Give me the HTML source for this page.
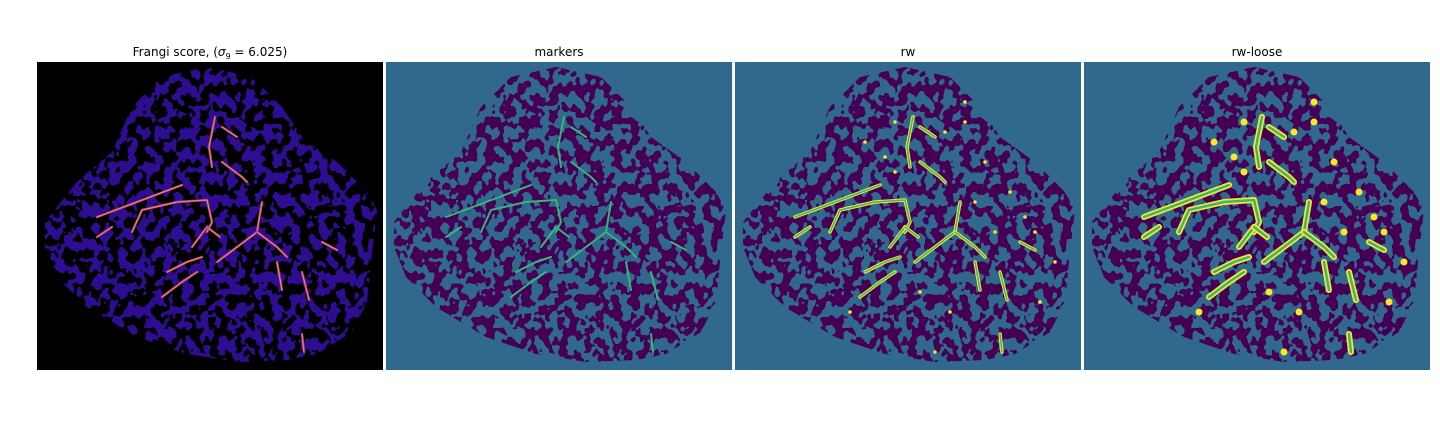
<!DOCTYPE html>
<html><head><meta charset="utf-8"><style>
html,body{margin:0;padding:0;background:#fff;}
svg{display:block;}
text{font-family:"DejaVu Sans","Liberation Sans",sans-serif;font-size:12px;fill:#000;}
</style></head><body>
<svg id="fig" width="1440" height="432" viewBox="0 0 1440 432" xmlns="http://www.w3.org/2000/svg">
<defs>
<filter id="texV" filterUnits="userSpaceOnUse" x="0" y="0" width="1440" height="432">
 <feTurbulence type="fractalNoise" baseFrequency="0.11 0.09" numOctaves="2" seed="7" result="t"/>
 <feColorMatrix in="t" type="matrix" values="0 0 0 0 0  0 0 0 0 0  0 0 0 0 0  1.6 0 0 0 -0.30" result="a"/>
 <feComponentTransfer in="a" result="b"><feFuncA type="discrete" tableValues="0 1"/></feComponentTransfer>
 <feFlood flood-color="#440154"/>
 <feComposite in2="b" operator="in"/>
</filter>
<filter id="texF" filterUnits="userSpaceOnUse" x="0" y="0" width="1440" height="432">
 <feTurbulence type="fractalNoise" baseFrequency="0.11 0.09" numOctaves="2" seed="7" result="t"/>
 <feColorMatrix in="t" type="matrix" values="0 0 0 0 0  0 0 0 0 0  0 0 0 0 0  -1.6 0 0 0 1.3" result="a"/>
 <feComponentTransfer in="a" result="b"><feFuncA type="discrete" tableValues="0 1"/></feComponentTransfer>
 <feFlood flood-color="#2e0a92"/>
 <feComposite in2="b" operator="in"/>
</filter>
</defs>
<g id="panels"></g>
</svg>
<script>
const NS="http://www.w3.org/2000/svg";
// blob outline (image coords relative to panel)
const outlineX=[8,40,75,95,125,170,215,245,265,300,330,340,335,330,315,280,250,200,150,100,50,20,8];
const outlineY=[160,120,90,45,15,5,15,45,75,100,130,148,190,240,270,292,298,300,292,275,245,215,185];
// detected vessels (image coords)
const vessels=[
 [[60,155],[100,140],[145,123]],
 [[95,170],[105,148],[140,140],[170,138],[175,160],[170,170]],
 [[170,165],[155,185]],
 [[170,165],[183,175]],
 [[225,140],[220,170],[200,185],[180,200]],
 [[220,170],[240,185],[250,195]],
 [[178,55],[172,85],[175,105]],
 [[185,100],[205,115],[210,120]],
 [[185,65],[200,75]],
 [[130,210],[150,200],[165,195]],
 [[125,235],[145,220],[160,210]],
 [[240,200],[245,228]],
 [[265,210],[272,238]],
 [[265,272],[267,290]],
 [[60,175],[75,165]],
 [[285,180],[300,188]]
];
const dotsX=[130,150,160,210,230,250,240,275,290,300,320,115,200,215,185,305,260,230,160];
const dotsY=[80,95,110,70,60,100,140,130,155,170,200,250,290,250,230,240,170,40,60];
const panels=[
 {x:37,title:"frangi",name:"frangi-panel"},
 {x:386,title:"markers",name:"markers-panel"},
 {x:735,title:"rw",name:"rw-panel"},
 {x:1084,title:"rw-loose",name:"rw-loose-panel"}
];
const W=346,H=308,Y0=62;
const root=document.getElementById('panels');
function mk(tag,attrs,parent){const e=document.createElementNS(NS,tag);for(const k in attrs)e.setAttribute(k,attrs[k]);parent.appendChild(e);return e;}
panels.forEach((p,i)=>{
 const g=mk('g',{transform:`translate(${p.x},${Y0})`},root);
 
 
 const cp=mk('clipPath',{id:'clip'+i},g);
 const pts=outlineX.map((x,j)=>x+','+outlineY[j]).join(' ');
 mk('polygon',{points:pts},cp);
 const bg=mk('rect',{x:0,y:0,width:W,height:H,fill:i===0?'#000':'#31688e'},g);
 
 
 const blob=mk('g',{'clip-path':`url(#clip${i})`},g);
 
 
 mk('rect',{x:0,y:0,width:W,height:H,fill:i===0?'#000':'#31688e'},blob);
 mk('rect',{x:-p.x,y:-Y0,width:1440,height:432,filter:i===0?'url(#texF)':'url(#texV)'},blob);
 const vg=mk('g',{fill:'none','stroke-linecap':'round','stroke-linejoin':'round'},blob);
 
 
 vessels.forEach(v=>{
  const d='M'+v.map(q=>q.join(',')).join(' L');
  if(i===0){mk('path',{d,stroke:'#a0308a','stroke-width':2.5},vg);mk('path',{d,stroke:'#f89540','stroke-width':1},vg);}
  else if(i===1){mk('path',{d,stroke:'#35b779','stroke-width':2},vg);}
  else if(i===2){mk('path',{d,stroke:'#fde725','stroke-width':3.5},vg);mk('path',{d,stroke:'#35b779','stroke-width':1.5},vg);}
  else {mk('path',{d,stroke:'#fde725','stroke-width':6},vg);mk('path',{d,stroke:'#35b779','stroke-width':2.5},vg);}
 });
 if(i>=2){dotsX.forEach((x,j)=>{
  const c=mk('circle',{cx:x,cy:dotsY[j],r:i===2?1.8:3.5,fill:'#fde725'},vg);
  
  
 });}
 const t=mk('text',{x:W/2,y:-6,'text-anchor':'middle'},g);
 
 
 if(i===0){t.innerHTML='Frangi score, (<tspan font-style="italic">σ</tspan><tspan font-size="8" dy="3">9</tspan><tspan dy="-3"> = 6.025)</tspan>';}
 else t.textContent=p.title;
});
</script>
</body></html>
